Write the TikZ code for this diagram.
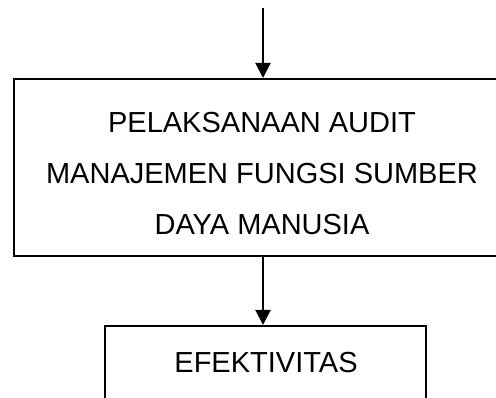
\documentclass[tikz,border=0pt]{standalone}
\usepackage{fontspec}
\setmainfont{Liberation Sans}
\usetikzlibrary{arrows.meta}
\begin{document}
\begin{tikzpicture}[x=1pt,y=1pt,
  boxstyle/.style={draw=black,line width=2pt,rectangle,inner sep=0pt},
  txt/.style={font=\fontsize{29}{51}\selectfont,align=center,inner sep=0pt},
  conn/.style={line width=2pt,-{Triangle[length=15pt,width=15pt]}}]
\clip (0,0) rectangle (496,-398);
\useasboundingbox (0,0) rectangle (496,-398);
\coordinate (start) at (263,-8);
\node[boxstyle,minimum width=498pt,minimum height=177pt] (audit) at (263,-167.5) {};
\node[txt] (audittxt) at (262,-174) {PELAKSANAAN AUDIT\\MANAJEMEN FUNGSI SUMBER\\DAYA MANUSIA};
\node[boxstyle,minimum width=321pt,minimum height=150pt,anchor=north] (efek) at (265.5,-325) {};
\node[txt,anchor=base] (efektxt) at (266,-373) {EFEKTIVITAS};
\draw[conn] (start) -- (audit.north -| start);
\draw[conn] (audit.south -| start) -- (efek.north -| start);
\end{tikzpicture}
\end{document}
